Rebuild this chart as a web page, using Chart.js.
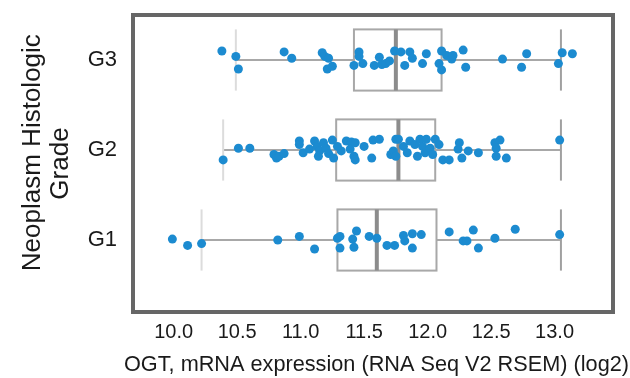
<!DOCTYPE html>
<html>
<head>
<meta charset="utf-8">
<script src="https://cdn.jsdelivr.net/npm/chart.js@4/dist/chart.umd.min.js"></script>
<style>
  body { margin: 0; background: #fff; }
  #wrap { width: 630px; height: 378px; }
</style>
</head>
<body>
<div id="wrap"><canvas id="chart" width="630" height="378"></canvas></div>
<script>
// categories (index 0 = G1 at the bottom)
const gradeLabels = ['G1', 'G2', 'G3'];
const xTickValues = [10.0, 10.5, 11.0, 11.5, 12.0, 12.5, 13.0];
const xTitle = 'OGT, mRNA expression (RNA Seq V2 RSEM) (log2)';

// box stats per grade: G1, G2, G3
const boxLow  = [10.22, 10.39, 10.49];
const boxQ1   = [11.29, 11.28, 11.42];
const boxMed  = [11.60, 11.77, 11.75];
const boxQ3   = [12.07, 12.06, 12.11];
const boxHigh = [13.05, 13.05, 13.05];

// strip points (value, vertical jitter in category units)
const g1Values = [9.99, 10.11, 10.22, 10.82, 10.99, 11.11, 11.29, 11.31, 11.31, 11.41, 11.44, 11.42, 11.54, 11.60, 11.68,
  11.74, 11.81, 11.82, 11.88, 11.88, 11.95, 12.17, 12.28, 12.31, 12.36, 12.40, 12.53, 12.69, 13.04];
const g1Jitter = [0.01, -0.06, -0.04, 0.00, 0.04, -0.10, 0.02, 0.04, -0.09, 0.01, 0.10, -0.08, 0.04, 0.02, -0.06,
  -0.06, 0.05, -0.01, 0.07, -0.09, 0.06, 0.09, -0.01, -0.01, 0.11, -0.09, 0.02, 0.12, 0.06];

const g2Values = [10.39, 10.51, 10.60, 10.79, 10.81, 10.83, 10.87, 10.99, 10.99, 11.02, 11.07, 11.11, 11.13, 11.15, 11.14,
  11.18, 11.20, 11.22, 11.25, 11.26, 11.29, 11.32, 11.36, 11.40, 11.39, 11.43, 11.42, 11.43, 11.50, 11.56, 11.57, 11.62,
  11.71, 11.75, 11.77, 11.73, 11.75, 11.81, 11.84, 11.86, 11.90, 11.92, 11.94, 11.96, 11.99, 11.98, 12.02, 12.06, 12.04,
  12.09, 12.12, 12.17, 12.25, 12.27, 12.24, 12.32, 12.40, 12.53, 12.57, 12.54, 12.54, 12.62, 13.04];
const g2Jitter = [-0.11, 0.02, 0.02, -0.05, -0.09, -0.07, -0.04, 0.10, 0.06, -0.03, 0.01, 0.10, 0.04, -0.01, -0.07,
  0.08, 0.02, -0.04, 0.11, -0.09, 0.04, -0.01, 0.10, 0.09, 0.01, 0.08, -0.07, -0.11, 0.04, -0.09, 0.11, 0.12,
  -0.05, 0.12, 0.12, -0.01, -0.07, 0.04, -0.03, 0.10, 0.06, -0.07, 0.12, 0.04, 0.12, -0.03, 0.02, 0.12, -0.05,
  0.06, -0.11, -0.11, 0.08, -0.09, 0.01, -0.01, -0.03, 0.08, 0.11, 0.02, -0.07, -0.09, 0.11];

const g3Values = [10.38, 10.49, 10.51, 10.87, 10.93, 11.17, 11.19, 11.22, 11.21, 11.25, 11.42, 11.46, 11.46, 11.49, 11.58,
  11.62, 11.64, 11.67, 11.70, 11.74, 11.79, 11.86, 11.88, 11.82, 11.99, 11.96, 12.11, 12.15, 12.09, 12.11, 12.19, 12.20,
  12.28, 12.30, 12.59, 12.78, 12.74, 13.06, 13.03, 13.14];
const g3Jitter = [0.10, 0.04, -0.10, 0.09, 0.02, 0.08, 0.04, 0.02, -0.10, -0.07, -0.06, 0.09, 0.04, -0.04, -0.06,
  0.03, -0.05, -0.04, -0.01, 0.10, 0.09, 0.09, 0.02, -0.06, 0.07, -0.04, 0.10, 0.05, -0.04, -0.11, 0.01, 0.05,
  0.11, -0.08, 0.01, 0.07, -0.08, 0.08, -0.04, 0.07];

const pointColor = '#1c8bd0';
const boxHalf = 0.34;
const font = 'Liberation Sans, Arial, sans-serif';

const toPoints = (values, jitter, level) => values.map((v, i) => ({ x: v, y: level + jitter[i] }));

// draws the box plots under the points, the frame and the long x title (chart.js squeezes it)
const boxPlugin = {
  id: 'boxes',
  beforeDatasetsDraw(chart) {
    const { ctx, scales: { x, y } } = chart;
    ctx.save();
    gradeLabels.forEach((g, i) => {
      const yc = y.getPixelForValue(i);
      const yt = y.getPixelForValue(i + boxHalf);
      const yb = y.getPixelForValue(i - boxHalf);
      const xl = x.getPixelForValue(boxLow[i]);
      const x1 = x.getPixelForValue(boxQ1[i]);
      const xm = x.getPixelForValue(boxMed[i]);
      const x3 = x.getPixelForValue(boxQ3[i]);
      const xh = x.getPixelForValue(boxHigh[i]);

      // whiskers
      ctx.strokeStyle = '#a8a8a8';
      ctx.lineWidth = 2;
      ctx.beginPath();
      ctx.moveTo(xl, yc); ctx.lineTo(x1, yc);
      ctx.moveTo(x3, yc); ctx.lineTo(xh, yc);
      ctx.stroke();

      // caps
      ctx.strokeStyle = '#dcdcdc';
      ctx.beginPath();
      ctx.moveTo(xl, yt); ctx.lineTo(xl, yb);
      ctx.stroke();
      ctx.strokeStyle = '#a0a0a0';
      ctx.beginPath();
      ctx.moveTo(xh, yt); ctx.lineTo(xh, yb);
      ctx.stroke();

      // box
      ctx.strokeStyle = '#a8a8a8';
      ctx.lineWidth = 2;
      ctx.strokeRect(x1, yt, x3 - x1, yb - yt);

      // median
      ctx.strokeStyle = '#8c8c8c';
      ctx.lineWidth = 4;
      ctx.beginPath();
      ctx.moveTo(xm, yt); ctx.lineTo(xm, yb);
      ctx.stroke();
    });
    ctx.restore();
  },
  afterDraw(chart) {
    const { ctx, chartArea: a } = chart;
    ctx.save();
    ctx.strokeStyle = '#666666';
    ctx.lineWidth = 4;
    ctx.strokeRect(a.left, a.top, a.right - a.left, a.bottom - a.top);

    ctx.fillStyle = '#1a1a1a';
    ctx.font = '21.7px ' + font;
    ctx.textAlign = 'left';
    ctx.textBaseline = 'alphabetic';
    ctx.fillText(xTitle, a.left - 9, chart.height - 7);
    ctx.restore();
  }
};

const dot = { backgroundColor: pointColor, borderColor: pointColor, pointRadius: 4.5, pointBorderWidth: 0 };

new Chart(document.getElementById('chart'), {
  type: 'scatter',
  data: {
    datasets: [
      { label: 'G1', data: toPoints(g1Values, g1Jitter, 0), ...dot },
      { label: 'G2', data: toPoints(g2Values, g2Jitter, 1), ...dot },
      { label: 'G3', data: toPoints(g3Values, g3Jitter, 2), ...dot }
    ]
  },
  options: {
    responsive: false,
    animation: false,
    layout: { padding: { top: 15, right: 17, left: 0, bottom: 0 } },
    plugins: { legend: { display: false }, tooltip: { enabled: false } },
    scales: {
      x: {
        type: 'linear',
        min: 9.68,
        max: 13.46,
        grid: { display: false, drawTicks: false },
        border: { display: false },
        afterBuildTicks: (scale) => { scale.ticks = xTickValues.map(v => ({ value: v })); },
        afterFit: (scale) => { scale.height = 66; scale.paddingLeft = 0; scale.paddingRight = 0; },
        ticks: {
          padding: 8,
          color: '#1a1a1a',
          font: { family: font, size: 20 },
          callback: (v) => Number(v).toFixed(1)
        },
        title: { display: false }
      },
      y: {
        type: 'linear',
        min: -0.8,
        max: 2.5,
        grid: { display: false, drawTicks: false },
        border: { display: false },
        afterBuildTicks: (scale) => { scale.ticks = gradeLabels.map((g, i) => ({ value: i })); },
        afterFit: (scale) => { scale.width = 133; scale.paddingTop = 0; scale.paddingBottom = 0; },
        ticks: {
          padding: 16,
          color: '#1a1a1a',
          font: { family: font, size: 22 },
          callback: (v) => gradeLabels[v]
        },
        title: {
          display: true,
          text: ['   Neoplasm Histologic', 'Grade'],
          color: '#1a1a1a',
          padding: { top: 19, bottom: 0 },
          font: { family: font, size: 26, lineHeight: 1.08 }
        }
      }
    }
  },
  plugins: [boxPlugin]
});
</script>
</body>
</html>
